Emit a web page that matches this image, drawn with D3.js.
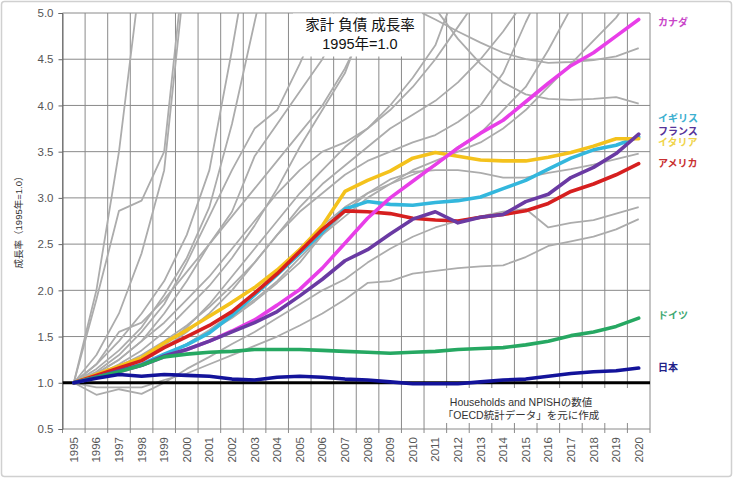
<!DOCTYPE html>
<html><head><meta charset="utf-8">
<script src="https://cdn.jsdelivr.net/npm/d3@7"></script>
<style>
html,body{margin:0;padding:0;background:#fff;}
svg{display:block;font-family:"Liberation Sans","Noto Sans CJK JP",sans-serif;}
</style></head>
<body>
<svg id="chart" width="734" height="480"></svg>
<script>
const years = d3.range(1995, 2021).map(String);
const yTicks = [0.5,1.0,1.5,2.0,2.5,3.0,3.5,4.0,4.5,5.0];
const titleLines = ["家計 負債 成長率", "1995年=1.0"];
const yTitle = "成長率（1995年=1.0）";
const noteLines = ["Households and NPISHの数値", "「OECD統計データ」を元に作成"];

// highlighted countries
const countries = ["カナダ","イギリス","フランス","イタリア","アメリカ","ドイツ","日本"];
const canada  = [1,1.06,1.12,1.19,1.28,1.36,1.45,1.56,1.68,1.84,2.01,2.24,2.51,2.78,3.00,3.18,3.36,3.54,3.70,3.84,4.04,4.24,4.43,4.57,4.75,4.93];
const uk      = [1,1.07,1.13,1.20,1.31,1.41,1.54,1.73,1.95,2.17,2.40,2.63,2.88,2.96,2.93,2.92,2.95,2.97,3.01,3.10,3.19,3.31,3.43,3.52,3.57,3.66];
const france  = [1,1.06,1.13,1.19,1.29,1.36,1.45,1.55,1.65,1.77,1.94,2.12,2.32,2.44,2.61,2.77,2.85,2.73,2.79,2.82,2.96,3.04,3.22,3.33,3.48,3.69];
const italy   = [1,1.09,1.18,1.27,1.43,1.57,1.72,1.87,2.03,2.22,2.44,2.70,3.07,3.19,3.29,3.43,3.49,3.45,3.41,3.40,3.40,3.44,3.49,3.56,3.64,3.64];
const usa     = [1,1.08,1.16,1.24,1.38,1.50,1.62,1.77,1.97,2.18,2.42,2.66,2.86,2.85,2.83,2.78,2.76,2.75,2.79,2.82,2.86,2.94,3.07,3.15,3.25,3.37];
const germany = [1,1.06,1.12,1.19,1.28,1.31,1.33,1.34,1.36,1.36,1.36,1.35,1.34,1.33,1.32,1.33,1.34,1.36,1.37,1.38,1.41,1.45,1.51,1.55,1.61,1.70];
const japan   = [1,1.05,1.09,1.07,1.09,1.08,1.07,1.04,1.03,1.06,1.07,1.06,1.04,1.03,1.01,0.99,0.99,0.99,1.01,1.03,1.04,1.07,1.10,1.12,1.13,1.16];
const colors  = ["#e83ee8","#33b7dd","#6a3aa3","#f4c21c","#d61f1f","#26a862","#13139a"];
const labelColors = ["#c845c8","#3cb0d0","#553399","#f0d44a","#c83030","#3fa873","#222288"];

// other OECD countries (grey), null = outside the chart
const N = null;
const grey1  = [1,2.0,3.5,5.5,N,N,N,N,N,N,N,N,N,N,N,5.05,4.93,4.8,4.68,4.57,4.5,4.46,4.47,4.49,4.53,4.62];
const grey2  = [1,1.9,2.86,2.97,3.5,5.8,N,N,N,N,N,N,N,N,N,N,5.05,4.72,4.45,4.25,4.12,4.07,4.06,4.07,4.09,4.02];
const grey3  = [1,1.3,1.75,2.4,3.3,5.6];
const grey4  = [1,1.2,1.45,1.75,2.1,2.6,3.3,4.6,6.0];
const grey5  = [1,1.15,1.35,1.6,1.95,2.35,2.9,3.8,4.9,6.0];
const grey6  = [1,1.12,1.3,1.55,1.85,2.3,2.8,3.3,3.75,3.95,4.45,5.0];
const grey7  = [1,1.1,1.25,1.45,1.75,2.1,2.5,2.85,3.45,3.8,4.15,4.5,5.0];
const grey8  = [1,1.08,1.2,1.35,1.55,1.8,2.05,2.35,2.7,3.1,3.55,3.95,4.35,5.0];
const grey9  = [1,1.07,1.15,1.25,1.4,1.6,1.85,2.15,2.45,2.75,3.05,3.3,3.55,3.75,4.0,4.3,4.65,5.3];
const grey10 = [1,1.06,1.14,1.25,1.38,1.55,1.75,2.0,2.3,2.6,2.9,3.15,3.35,3.55,3.75,3.9,4.05,4.25,4.5,4.8,5.15];
const grey11 = [1,1.08,1.18,1.3,1.45,1.62,1.82,2.05,2.3,2.6,2.85,3.05,3.25,3.4,3.5,3.6,3.68,3.82,4.0,4.35,4.9,5.4];
const grey12 = [1,1.05,1.12,1.2,1.3,1.42,1.55,1.72,1.9,2.1,2.35,2.6,2.8,3.0,3.15,3.25,3.35,3.55,3.7,3.95,4.2,4.6,5.05];
const grey13 = [1,1.06,1.13,1.2,1.3,1.42,1.57,1.75,1.95,2.2,2.45,2.7,2.9,3.05,3.15,3.3,3.4,3.5,3.6,3.75,3.95,4.2,4.45,4.7,4.95,5.3];
const grey14 = [1,1.05,1.12,1.2,1.3,1.42,1.55,1.7,1.88,2.08,2.3,2.6,2.85,3.05,3.2,3.28,3.3,3.3,3.27,3.22,3.22,3.27,3.31,3.36,3.42,3.48];
const grey15 = [1,0.87,0.93,0.88,1.0,1.15,1.28,1.42,1.55,1.7,1.85,2.0,2.12,2.3,2.45,2.58,2.68,2.75,2.8,2.85,2.88,2.68,2.73,2.76,2.83,2.9];
const grey16 = [1,0.95,0.95,0.95,1.03,1.1,1.2,1.3,1.4,1.5,1.62,1.75,1.9,2.08,2.1,2.18,2.21,2.24,2.26,2.27,2.36,2.48,2.53,2.58,2.66,2.77];
const grey17 = [1,1.2,1.55,1.65,1.9,2.2,2.5,2.8,3.1,3.4,3.7,4.0,4.4,4.9,5.4];
const grey18 = [1,1.1,1.25,1.45,1.65,1.9,2.15,2.45,2.75,3.05,3.3,3.5,3.6,3.75,3.95,4.2,4.5,4.85,5.2];

const greySeries = [grey1,grey2,grey3,grey4,grey5,grey6,grey7,grey8,grey9,grey10,grey11,grey12,grey13,grey14,grey15,grey16,grey17,grey18];
const mainSeries = [canada,uk,france,italy,usa,germany,japan];

// ---------- drawing ----------
const svg = d3.select("#chart");
const L = 62.5, R = 650, T = 13, B = 429;
const xb = d3.scaleBand().domain(years).range([L, R]).paddingInner(0).paddingOuter(0);
const xc = d => xb(d) + xb.bandwidth() / 2;
const y = d3.scaleLinear().domain([0.5, 5.0]).range([B, T]);

svg.append("rect").attr("x",1.5).attr("y",1.5).attr("width",730).attr("height",475)
  .attr("fill","#fff").attr("stroke","#d0d0d0").attr("stroke-width",1.5).attr("rx",3);

svg.append("defs").append("clipPath").attr("id","plotclip")
  .append("rect").attr("x",L).attr("y",T).attr("width",R-L).attr("height",B-T);

// grid
const grid = svg.append("g");
grid.selectAll("line.h").data(yTicks).join("line")
  .attr("x1",L).attr("x2",R).attr("y1",d=>y(d)).attr("y2",d=>y(d))
  .attr("stroke","#8a8a8a").attr("stroke-width",1);
const edges = years.map(d => xb(d)).concat([R]);
grid.selectAll("line.v").data(edges).join("line")
  .attr("x1",d=>d).attr("x2",d=>d).attr("y1",T).attr("y2",B+4)
  .attr("stroke","#8a8a8a").attr("stroke-width",1);

// y axis
const yAxis = d3.axisLeft(y).tickValues(yTicks).tickFormat(d3.format(".1f")).tickSize(4).tickPadding(5);
const ya = svg.append("g").attr("transform",`translate(${L},0)`).call(yAxis);
ya.select(".domain").attr("stroke","#666");
ya.selectAll(".tick line").attr("stroke","#666");
ya.selectAll(".tick text").attr("fill","#555").attr("font-size",11.5)
  .attr("font-family","Liberation Sans, sans-serif");

// x labels
const xa = svg.append("g");
xa.selectAll("text").data(years).join("text")
  .attr("transform", d => `translate(${xc(d)},437) rotate(-90)`)
  .attr("text-anchor","end").attr("dy","0.35em")
  .attr("font-size",11.5).attr("fill","#555").text(d=>d);

// y title
svg.append("text").attr("transform","translate(19,220) rotate(-90)")
  .attr("text-anchor","middle").attr("dy","0.35em")
  .attr("font-size",9.5).attr("fill","#333").text(yTitle);

const plot = svg.append("g").attr("clip-path","url(#plotclip)");
const line = d3.line().defined(d => d.v != null).x(d => xc(d.year)).y(d => y(d.v));
const toPts = arr => years.map((yr,i) => ({year: yr, v: i < arr.length ? arr[i] : null}));

plot.selectAll("path.grey").data(greySeries).join("path")
  .attr("d", s => line(toPts(s))).attr("fill","none")
  .attr("stroke","#acacac").attr("stroke-width",1.8).attr("stroke-linejoin","round");

// baseline 1.0
plot.append("line").attr("x1",L).attr("x2",R).attr("y1",y(1)).attr("y2",y(1))
  .attr("stroke","#000").attr("stroke-width",3);

const drawOrder = [1,3,4,0,2,5,6];
plot.selectAll("path.main").data(drawOrder).join("path")
  .attr("d", i => line(toPts(mainSeries[i]))).attr("fill","none")
  .attr("stroke", i => colors[i]).attr("stroke-width",3.6)
  .attr("stroke-linejoin","round").attr("stroke-linecap","round");

// title box
svg.append("rect").attr("x",293).attr("y",T+0.5).attr("width",129).attr("height",43).attr("fill","#fff");
svg.selectAll("text.title").data(titleLines).join("text")
  .attr("x",360).attr("y",(d,i)=>25+i*19).attr("dy","0.35em")
  .attr("text-anchor","middle").attr("font-size",14.5).attr("fill","#111").text(d=>d);

// note box
svg.append("rect").attr("x",428).attr("y",388).attr("width",218).attr("height",35).attr("fill","#fff");
svg.selectAll("text.note").data(noteLines).join("text")
  .attr("x",521).attr("y",(d,i)=>402+i*13.5).attr("dy","0.35em")
  .attr("text-anchor","middle").attr("font-size",10.5).attr("fill","#333").text(d=>d);

// right labels (value levels where labels sit)
const labelLevels = [4.90, 3.86, 3.72, 3.60, 3.37, 1.73, 1.16];
svg.selectAll("text.lab").data(countries).join("text")
  .attr("x",658).attr("y",(d,i)=>y(labelLevels[i])).attr("dy","0.35em")
  .attr("font-size",10).attr("font-weight","bold")
  .attr("fill",(d,i)=>labelColors[i]).text(d=>d);
</script>
</body></html>
